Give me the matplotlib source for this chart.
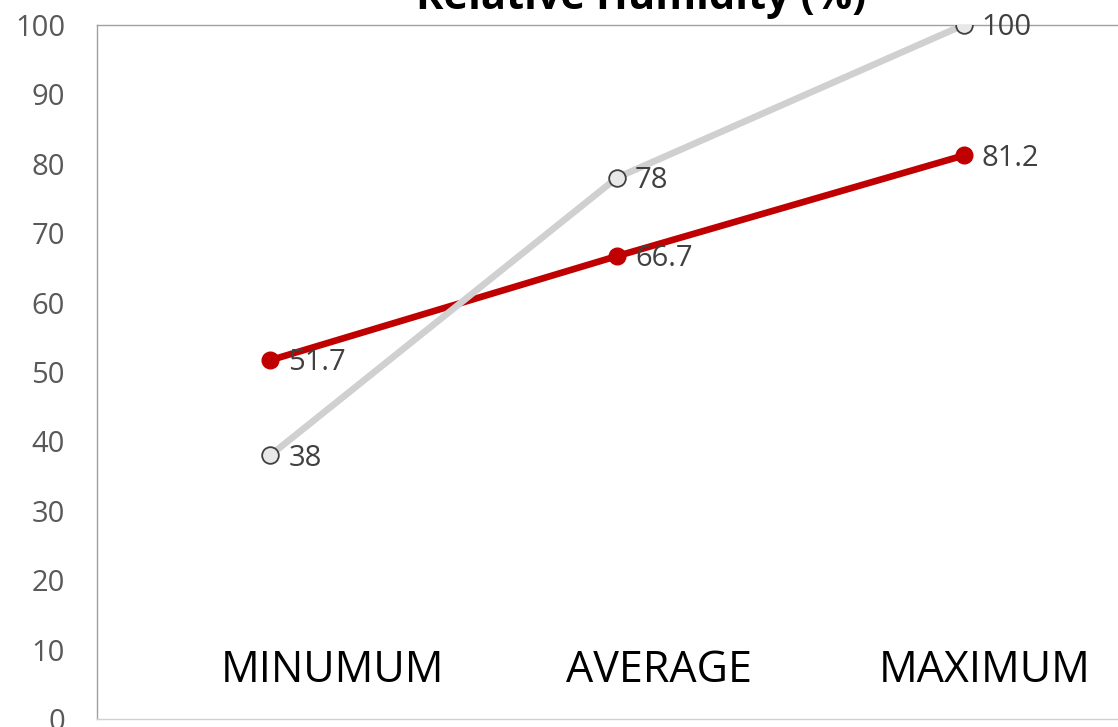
import numpy as np
import matplotlib.pyplot as plt

# data
categories = ["MINUMUM", "AVERAGE", "MAXIMUM"]
red_values = [51.7, 66.7, 81.2]
grey_values = [38, 78, 100]
red_labels = ["51.7", "66.7", "81.2"]
grey_labels = ["38", "78", "100"]
y_ticks = list(range(0, 101, 10))

W, H = 1118, 727
fig = plt.figure(figsize=(W / 100, H / 100), dpi=100)

# plot area runs off the right edge in the original
left, right = 97, 1137
top, bottom = 25, 719
ax = fig.add_axes([left / W, (H - bottom) / H, (right - left) / W, (bottom - top) / H])

x = np.arange(len(categories))

ax.plot(x, red_values, color="#c00000", lw=4.8, marker="o", ms=12,
        mfc="#c00000", mec="#c00000", zorder=3, solid_capstyle="round")
ax.plot(x, grey_values, color="#d0d0d0", lw=4.8, marker="o", ms=12,
        mfc="#e8e8e8", mec="#404040", mew=1.3, zorder=4)

for xi, v, s in zip(x, red_values, red_labels):
    ax.annotate(s, (xi, v), xytext=(13, -2), textcoords="offset points",
                va="center", ha="left", fontsize=21, color="#404040",
                family="Open Sans", zorder=5)
for xi, v, s in zip(x, grey_values, grey_labels):
    ax.annotate(s, (xi, v), xytext=(13, -2), textcoords="offset points",
                va="center", ha="left", fontsize=21, color="#404040",
                family="Open Sans", zorder=5)

# category names sit inside the plot near the bottom, a bit right of the points
label_shift = [0.18, 0.12, 0.06]
for xi, c, dx in zip(x, categories, label_shift):
    ax.text(xi + dx, 7.0, c, ha="center", va="center", fontsize=31,
            family="Open Sans", color="black")

ax.set_xlim(-0.5, 2.5)
ax.set_ylim(0, 100)
ax.set_xticks([])
ax.set_yticks(y_ticks)
ax.tick_params(axis="y", length=0, pad=23, labelsize=21, labelcolor="#595959")
for lab in ax.get_yticklabels():
    lab.set_family("Open Sans")

for sp in ax.spines.values():
    sp.set_color("#a0a0a0")
    sp.set_linewidth(1.0)
ax.spines["bottom"].set_color("#d0d0d0")

fig.text(0.573, 0.974, "Relative Humidity (%)", ha="center", va="bottom",
         fontsize=30, fontweight="bold", family="Open Sans", color="black")

fig.savefig("out.png", dpi=100)
